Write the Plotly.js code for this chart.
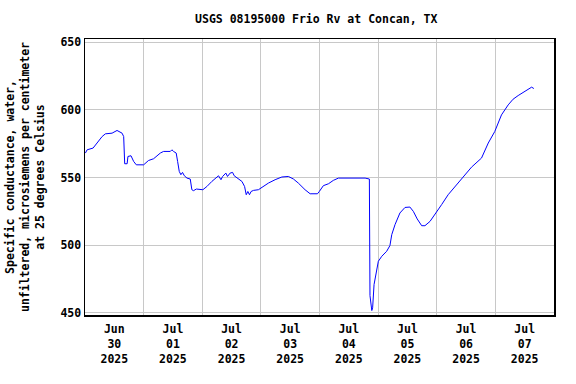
<!DOCTYPE html>
<html>
<head>
<meta charset="utf-8">
<script src="https://cdn.plot.ly/plotly-3.0.1.min.js"></script>
<style>
html,body{margin:0;padding:0;background:#fff;}
#chart{width:576px;height:384px;}
</style>
</head>
<body>
<div id="chart"></div>
<script>
var chartTitle = "USGS 08195000 Frio Rv at Concan, TX";
var yTitleLines = ["Specific conductance, water,", "unfiltered, microsiemens per centimeter", "at 25 degrees Celsius"];
var footerText = "---- Provisional Data Subject to Revision ----";
var yTickVals = [450, 500, 550, 600, 650];
var xRange = ["2025-06-30 00:00", "2025-07-08 00:00"];
var yRange = [448.4, 652.4];

var times = [
"2025-06-30 00:10","2025-06-30 00:52","2025-06-30 03:19","2025-06-30 04:57","2025-06-30 07:00","2025-06-30 08:20",
"2025-06-30 11:05","2025-06-30 13:07","2025-06-30 15:10","2025-06-30 15:50","2025-06-30 16:15","2025-06-30 17:15",
"2025-06-30 17:35","2025-06-30 18:50","2025-06-30 19:55","2025-06-30 21:00",
"2025-07-01 00:00","2025-07-01 02:00","2025-07-01 04:05","2025-07-01 06:50","2025-07-01 08:10","2025-07-01 10:55",
"2025-07-01 11:35","2025-07-01 12:15","2025-07-01 13:20","2025-07-01 13:55","2025-07-01 14:35","2025-07-01 15:15",
"2025-07-01 15:55","2025-07-01 16:40","2025-07-01 17:45","2025-07-01 19:05","2025-07-01 19:45","2025-07-01 20:25",
"2025-07-01 21:35",
"2025-07-02 00:15","2025-07-02 01:55","2025-07-02 03:55","2025-07-02 05:20","2025-07-02 06:40","2025-07-02 07:40",
"2025-07-02 08:20","2025-07-02 09:40","2025-07-02 10:20","2025-07-02 11:25","2025-07-02 12:25","2025-07-02 13:05",
"2025-07-02 14:50","2025-07-02 16:15","2025-07-02 17:20","2025-07-02 18:00","2025-07-02 18:40","2025-07-02 19:20",
"2025-07-02 20:00","2025-07-02 21:00","2025-07-02 23:00",
"2025-07-03 00:50","2025-07-03 03:05","2025-07-03 05:50","2025-07-03 08:35","2025-07-03 11:15","2025-07-03 13:20",
"2025-07-03 15:20","2025-07-03 16:45","2025-07-03 18:05","2025-07-03 20:10","2025-07-03 23:10","2025-07-03 23:55",
"2025-07-04 00:15","2025-07-04 01:35","2025-07-04 03:40","2025-07-04 05:40","2025-07-04 07:45","2025-07-04 18:40",
"2025-07-04 20:25","2025-07-04 20:40","2025-07-04 21:25","2025-07-04 21:45","2025-07-04 22:20","2025-07-04 23:10",
"2025-07-05 00:05","2025-07-05 01:30","2025-07-05 03:30","2025-07-05 04:50","2025-07-05 05:35","2025-07-05 06:55",
"2025-07-05 08:55","2025-07-05 11:00","2025-07-05 13:00","2025-07-05 14:25","2025-07-05 16:00","2025-07-05 17:50",
"2025-07-05 19:10","2025-07-05 21:15","2025-07-05 23:15",
"2025-07-06 02:00","2025-07-06 04:40","2025-07-06 07:25","2025-07-06 10:50","2025-07-06 14:15","2025-07-06 18:20",
"2025-07-06 21:05","2025-07-06 23:45",
"2025-07-07 02:30","2025-07-07 05:15","2025-07-07 07:15","2025-07-07 09:20","2025-07-07 11:20","2025-07-07 13:25",
"2025-07-07 14:50","2025-07-07 15:45"
];
var conductance = [
568.1,570.5,571.8,575.9,580.3,582.3,
582.8,584.8,582.8,580.3,560.2,560.2,
565.6,566.1,561.9,559.4,
559.4,562.6,563.9,568.1,569.3,569.3,
570.5,569.3,568.1,561.9,554.5,552.1,
553.8,551.3,549.6,548.9,541.0,540.3,
541.5,
541.0,543.4,547.1,549.6,551.3,548.4,
550.8,553.3,550.8,553.3,553.8,551.3,
548.9,547.1,543.4,537.3,539.7,537.3,
539.7,540.5,541.0,
543.4,545.9,548.4,550.4,550.8,548.9,
545.9,543.0,541.0,538.0,538.0,539.7,
540.5,544.0,545.4,547.9,549.6,549.6,
548.9,462.8,451.7,453.7,470.9,480.7,
488.1,491.8,495.5,499.7,507.8,515.2,
523.8,527.9,528.2,525.0,519.4,514.4,
514.4,517.6,522.5,
530.0,537.3,543.4,550.8,557.7,564.4,
575.5,584.0,
596.3,603.7,607.9,610.6,612.8,614.8,
616.8,615.8
];

var FONT = {family: "DejaVu Sans Mono", size: 11.5, color: "#000", weight: "bold"};

var trace = {
  x: times, y: conductance, type: "scatter", mode: "lines",
  line: {color: "#0000ff", width: 1}, hoverinfo: "skip"
};

var layout = {
  width: 576, height: 384,
  margin: {l: 84.6, r: 21.7, t: 39, b: 68.5},
  paper_bgcolor: "#fff", plot_bgcolor: "#fff",
  showlegend: false,
  font: FONT,
  title: {text: chartTitle, font: FONT, x: 0.549, xanchor: "center", y: 0.95, yanchor: "middle", yref: "container"},
  xaxis: {
    type: "date", range: xRange, tick0: xRange[0], dtick: 86400000,
    ticklabelmode: "period", tickformat: "%b<br>%d<br>%Y",
    ticklabelstandoff: 3,
    showgrid: true, gridcolor: "#c8c8c8", gridwidth: 1,
    showline: true, mirror: true, linecolor: "#000", linewidth: 1.5,
    ticks: "", zeroline: false, tickfont: FONT, fixedrange: true
  },
  yaxis: {
    range: yRange, tickmode: "array", tickvals: yTickVals,
    showgrid: true, gridcolor: "#c8c8c8", gridwidth: 1,
    showline: true, mirror: true, linecolor: "#000", linewidth: 1.5,
    ticks: "", zeroline: false, tickfont: FONT,
    title: {text: yTitleLines.join("<br>"), font: FONT, standoff: 13},
    fixedrange: true
  },
  annotations: [{
    text: footerText, xref: "paper", yref: "container", x: 0.497, y: 0.024,
    xanchor: "center", yanchor: "middle", showarrow: false,
    font: {family: "DejaVu Sans Mono", size: 11.5, color: "#ff0000", weight: "bold"}
  }]
};

Plotly.newPlot("chart", [trace], layout, {staticPlot: true, displayModeBar: false});
</script>
</body>
</html>
